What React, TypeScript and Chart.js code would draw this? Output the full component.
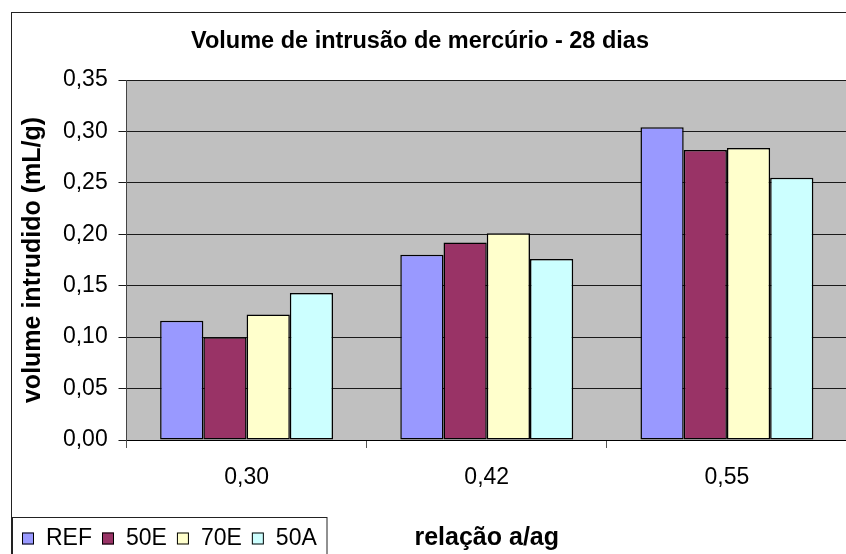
import React, { useEffect, useRef } from "react";
import { Chart, registerables } from "chart.js";

Chart.register(...registerables);

// Water/binder ratios on the category axis
const categories = ["0,30", "0,42", "0,55"];

// Intruded mercury volume (mL/g) per mix, one value per ratio
const refValues = [0.116, 0.18, 0.304];
const e50Values = [0.1, 0.192, 0.282];
const e70Values = [0.122, 0.201, 0.284];
const a50Values = [0.143, 0.176, 0.255];

const seriesLabels = ["REF", "50E", "70E", "50A"];
const seriesColors = ["#9999FF", "#993366", "#FFFFCC", "#CCFFFF"];

// Value axis ticks
const yTickValues = [0, 0.05, 0.1, 0.15, 0.2, 0.25, 0.3, 0.35];

const titleText = "Volume de intrusão de mercúrio - 28 dias";
const yTitleText = "volume intrudido (mL/g)";
const xTitleText = "relação a/ag";

const FONT = "'Liberation Sans', Arial, Helvetica, sans-serif";

const CANVAS_W = 880;
const CANVAS_H = 560;
const SHIFT_X = 7;

const fmt = (v: number) => v.toFixed(2).replace(".", ",");

// Grey plot background behind the bars
const plotBackground = {
  id: "plotBackground",
  beforeDraw(chart: any) {
    const { ctx, chartArea } = chart;
    ctx.save();
    ctx.fillStyle = "#C0C0C0";
    ctx.fillRect(chartArea.left, chartArea.top, chartArea.right - chartArea.left, chartArea.bottom - chartArea.top);
    ctx.restore();
  },
};

// Thin frame around the whole chart
const outerFrame = {
  id: "outerFrame",
  afterDraw(chart: any) {
    const { ctx } = chart;
    ctx.save();
    ctx.strokeStyle = "#222";
    ctx.lineWidth = 1;
    ctx.strokeRect(SHIFT_X + 11.5, 12.5, chart.width, chart.height);
    ctx.restore();
  },
};

// Boxed legend in the lower-left corner, built from the datasets
const boxedLegend = {
  id: "boxedLegend",
  afterDraw(chart: any) {
    const { ctx } = chart;
    const boxSize = 12;
    const textGap = 24;
    const itemGap = 10;
    const frameLeft = SHIFT_X + 12.5;
    const frameTop = 517.5;
    const midY = 538.5;
    let x = SHIFT_X + 22;
    ctx.save();
    ctx.font = `23px ${FONT}`;
    ctx.textBaseline = "middle";
    ctx.textAlign = "left";
    chart.data.datasets.forEach((ds: any) => {
      ctx.fillStyle = ds.backgroundColor;
      ctx.fillRect(x, midY - boxSize / 2, boxSize, boxSize);
      ctx.strokeStyle = "#000";
      ctx.lineWidth = 1;
      ctx.strokeRect(x + 0.5, midY - boxSize / 2 + 0.5, boxSize - 1, boxSize - 1);
      ctx.fillStyle = "#000";
      ctx.fillText(ds.label, x + textGap, midY);
      x += textGap + ctx.measureText(ds.label).width + itemGap;
    });
    ctx.strokeStyle = "#222";
    ctx.lineWidth = 1;
    ctx.strokeRect(frameLeft, frameTop, Math.round(x) - frameLeft, chart.height);
    ctx.restore();
  },
};

export default function App() {
  const canvasRef = useRef<HTMLCanvasElement | null>(null);

  useEffect(() => {
    const canvas = canvasRef.current;
    if (!canvas) return;
    const seriesValues = [refValues, e50Values, e70Values, a50Values];

    const chart = new Chart(canvas, {
      type: "bar",
      data: {
        labels: categories,
        datasets: seriesValues.map((values, i) => ({
          label: seriesLabels[i],
          data: values,
          backgroundColor: seriesColors[i],
          borderColor: "#000",
          borderWidth: 1.5,
          borderSkipped: false,
          categoryPercentage: 0.72,
          barPercentage: 1,
        })),
      },
      options: {
        responsive: false,
        animation: false,
        devicePixelRatio: 1,
        layout: { padding: { left: 0, right: 26, top: 0, bottom: 0 } },
        plugins: {
          legend: { display: false },
          tooltip: { enabled: false },
          title: {
            display: true,
            text: titleText,
            color: "#000",
            font: { family: FONT, size: 23.5, weight: "bold" },
            padding: { top: 27.9, bottom: 23.9 },
          },
        },
        scales: {
          x: {
            offset: true,
            afterFit: (scale: any) => {
              scale.height = 120;
            },
            grid: {
              display: true,
              drawOnChartArea: false,
              drawTicks: true,
              tickLength: 8,
              color: "#555",
              offset: true,
            },
            border: { display: true, color: "#000", width: 1 },
            ticks: {
              color: "#000",
              font: { family: FONT, size: 23 },
              padding: 16.2,
              maxRotation: 0,
            },
            title: {
              display: true,
              text: xTitleText,
              color: "#000",
              font: { family: FONT, size: 25, weight: "bold" },
              padding: { top: 0, bottom: 7 },
            },
          },
          y: {
            min: 0,
            max: 0.35,
            afterFit: (scale: any) => {
              scale.width = 133.5;
            },
            afterBuildTicks: (scale: any) => {
              scale.ticks = yTickValues.map((v) => ({ value: v }));
            },
            grid: {
              color: "#1a1a1a",
              lineWidth: 1,
              drawTicks: true,
              tickLength: 8,
            },
            border: { display: true, color: "#444", width: 1 },
            ticks: {
              color: "#000",
              font: { family: FONT, size: 23 },
              padding: 10.8,
              callback: (v: any) => fmt(Number(v)),
            },
            title: {
              display: true,
              text: yTitleText,
              color: "#000",
              font: { family: FONT, size: 25, weight: "bold" },
              padding: { top: 25, bottom: 0 },
            },
          },
        },
      },
      plugins: [plotBackground, outerFrame, boxedLegend],
    } as any);

    return () => chart.destroy();
  }, []);

  return (
    <div
      style={{
        position: "fixed",
        left: 0,
        top: 0,
        width: 846,
        height: 554,
        overflow: "hidden",
        background: "#fff",
      }}
    >
      <canvas
        ref={canvasRef}
        width={CANVAS_W}
        height={CANVAS_H}
        style={{ position: "absolute", left: -SHIFT_X, top: 0, width: CANVAS_W, height: CANVAS_H }}
      />
    </div>
  );
}
